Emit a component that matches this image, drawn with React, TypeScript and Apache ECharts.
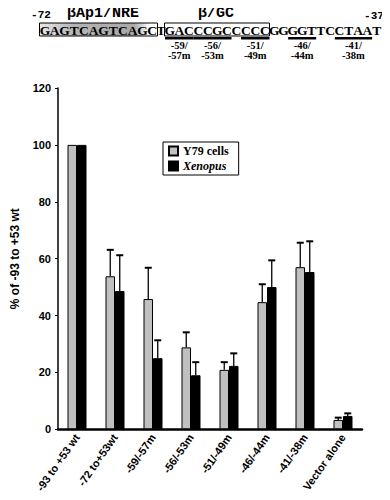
import React, { useEffect, useRef } from "react";
import * as echarts from "echarts";

const CATEGORIES = ["-93 to +53 wt", "-72 to+53wt", "-59/-57m", "-56/-53m", "-51/-49m", "-46/-44m", "-41/-38m", "Vector alone"];
const Y79_VALUES = [100, 53.8, 45.8, 28.8, 20.9, 44.7, 57, 3.3];
const Y79_ERR_TOP = [100, 63.1, 56.8, 34.1, 23.6, 51, 65.6, 4.1];
const XEN_VALUES = [100, 48.6, 25, 19, 22.3, 50, 55.3, 4.7];
const XEN_ERR_TOP = [100, 61.2, 31.3, 23.6, 26.7, 59.4, 66.1, 5.6];
const Y_TICKS = { min: 0, max: 120, interval: 20 };

const SEQUENCE = "GAGTCAGTCAGCTGACCCGCCCCCGGGGTTCCTAAT";
const SITES = [
  { top: "-59/", bottom: "-57m", from: -59, to: -57 },
  { top: "-56/", bottom: "-53m", from: -56, to: -53 },
  { top: "-51/", bottom: "-49m", from: -51, to: -49 },
  { top: "-46/", bottom: "-44m", from: -46, to: -44 },
  { top: "-41/", bottom: "-38m", from: -41, to: -38 },
];

const BAR_W = 9.5;
const SERIF = "'Liberation Serif', 'Times New Roman', serif";
const MONO = "'Liberation Mono', 'Courier New', monospace";
const SANS = "'Liberation Sans', Arial, sans-serif";

function charLeft(i: number): number {
  if (i <= 12) return i < 12 ? 40 + i * 9.75 : 157;
  if (i <= 23) return 165 + (i - 13) * 9.5;
  return 269.5 + (i - 24) * 9.33;
}
function charRight(i: number): number {
  if (i === 11) return 157;
  if (i === 12) return 165;
  if (i === 23) return 269.5;
  if (i === 35) return 381.5;
  return charLeft(i + 1);
}

function txt(text: string, x: number, y: number, size: number, family: string, align = "center") {
  return {
    type: "text",
    x,
    y,
    style: {
      text,
      fill: "#000",
      fontSize: size,
      fontFamily: family,
      fontWeight: "bold",
      align,
      verticalAlign: "middle",
    },
  };
}

function buildDiagram(): any[] {
  const els: any[] = [];
  els.push({
    type: "rect",
    shape: { x: 39.5, y: 23, width: 118, height: 13 },
    style: {
      fill: new echarts.graphic.LinearGradient(0, 0, 1, 0, [
        { offset: 0, color: "#e8e8e8" },
        { offset: 0.3, color: "#b4b4b4" },
        { offset: 0.8, color: "#a8a8a8" },
        { offset: 0.93, color: "#ffffff" },
        { offset: 1, color: "#ffffff" },
      ]),
      stroke: "#000",
      lineWidth: 1,
    },
  });
  els.push({
    type: "rect",
    shape: { x: 164.5, y: 23, width: 105, height: 13 },
    style: { fill: "none", stroke: "#000", lineWidth: 1 },
  });
  for (let i = 0; i < SEQUENCE.length; i++) {
    const cx = (charLeft(i) + charRight(i)) / 2;
    els.push(txt(SEQUENCE[i], cx, 30, 13.5, SERIF));
  }
  SITES.forEach((s) => {
    const a = s.from + 72;
    const b = s.to + 72;
    const x1 = charLeft(a);
    const x2 = charRight(b);
    const cx = (x1 + x2) / 2;
    els.push({ type: "rect", shape: { x: x1, y: 37, width: x2 - x1, height: 2.5 }, style: { fill: "#000" } });
    els.push(txt(s.top, cx, 45, 10.5, SERIF));
    els.push(txt(s.bottom, cx, 55.5, 10.5, SERIF));
  });
  els.push(txt("-72", 41, 15, 11, MONO));
  els.push(txt("-37", 374, 16, 11, MONO));
  els.push(txt("βAp1/NRE", 103, 13, 15, MONO));
  els.push(txt("β/GC", 216, 13, 15, MONO));
  return els;
}

function errSeries(name: string, vals: number[], tops: number[], offset: number) {
  return {
    name,
    type: "custom",
    z: 5,
    encode: { x: 0, y: 1 },
    data: vals.map((v, i) => [i, v, tops[i]]),
    renderItem: (params: any, api: any) => {
      const i = api.value(0);
      const v = api.value(1);
      const e = api.value(2);
      if (e <= v) return { type: "group", children: [] };
      const base = api.coord([i, v]);
      const top = api.coord([i, e]);
      const x = base[0] + offset;
      return {
        type: "group",
        children: [
          { type: "line", shape: { x1: x, y1: base[1], x2: x, y2: top[1] }, style: { stroke: "#000", lineWidth: 1.3 } },
          { type: "line", shape: { x1: x - 3.5, y1: top[1], x2: x + 3.5, y2: top[1] }, style: { stroke: "#000", lineWidth: 2 } },
        ],
      };
    },
  };
}

export default function App() {
  const ref = useRef<HTMLDivElement>(null);
  useEffect(() => {
    if (!ref.current) return;
    const chart = echarts.init(ref.current, null, { renderer: "svg" });
    chart.setOption({
      animation: false,
      backgroundColor: "#fff",
      grid: { left: 58, right: 28, top: 88, bottom: 70.7, containLabel: false },
      legend: {
        data: ["Y79 cells", "Xenopus"],
        orient: "vertical",
        left: 163,
        top: 142,
        borderColor: "#000",
        borderWidth: 1,
        borderRadius: 0,
        padding: [3, 10, 3, 5],
        itemWidth: 9,
        itemHeight: 9,
        itemGap: 3,
        icon: "rect",
        selectedMode: false,
        formatter: (n: string) => (n === "Xenopus" ? `{i|${n}}` : `{b|${n}}`),
        textStyle: {
          rich: {
            b: { fontFamily: SERIF, fontWeight: "bold", fontSize: 12, color: "#000" },
            i: { fontFamily: SERIF, fontWeight: "bold", fontStyle: "italic", fontSize: 12, color: "#000" },
          },
        },
      },
      xAxis: {
        type: "category",
        data: CATEGORIES,
        axisLine: { lineStyle: { color: "#000", width: 2.5 } },
        axisTick: { show: false },
        axisLabel: { interval: 0, rotate: 55, fontFamily: SANS, fontWeight: "bold", fontSize: 11, color: "#000", margin: 6 },
      },
      yAxis: {
        type: "value",
        min: Y_TICKS.min,
        max: Y_TICKS.max,
        interval: Y_TICKS.interval,
        name: "% of -93 to +53 wt",
        nameLocation: "middle",
        nameGap: 37,
        nameTextStyle: { fontFamily: SANS, fontWeight: "bold", fontSize: 12, color: "#000" },
        axisLine: { show: true, lineStyle: { color: "#000", width: 1.5 } },
        axisTick: { show: true, length: 3, lineStyle: { color: "#000" } },
        splitLine: { show: false },
        axisLabel: { fontFamily: SANS, fontWeight: "bold", fontSize: 11, color: "#000", margin: 7 },
      },
      graphic: buildDiagram(),
      series: [
        {
          name: "Y79 cells",
          type: "bar",
          data: Y79_VALUES,
          barWidth: BAR_W,
          barGap: "0%",
          itemStyle: { color: "#c0c0c0", borderColor: "#000", borderWidth: 1 },
        },
        {
          name: "Xenopus",
          type: "bar",
          data: XEN_VALUES,
          barWidth: BAR_W,
          barGap: "0%",
          itemStyle: { color: "#000", borderColor: "#000", borderWidth: 1 },
        },
        errSeries("errY79", Y79_VALUES, Y79_ERR_TOP, -BAR_W / 2),
        errSeries("errXen", XEN_VALUES, XEN_ERR_TOP, BAR_W / 2),
      ],
    });
    return () => chart.dispose();
  }, []);
  return <div ref={ref} style={{ width: 390, height: 500, margin: -8 }} />;
}
